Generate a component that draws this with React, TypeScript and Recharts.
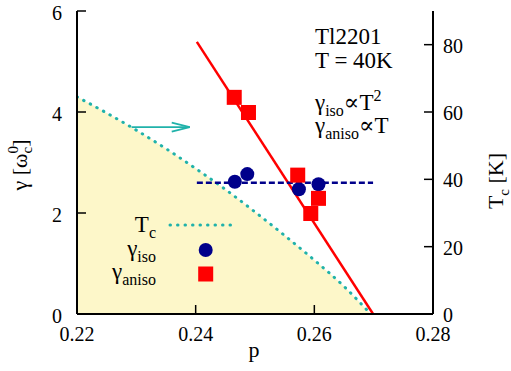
import React from 'react';
import {
  ComposedChart,
  XAxis,
  YAxis,
  Area,
  Line,
  Scatter,
  ReferenceLine,
} from 'recharts';

const FONT = "'Liberation Serif', 'DejaVu Serif', serif";
const TEAL = '#20b2aa';
const NAVY = '#00008b';
const RED = '#ff0000';
const FILL = '#fdf7c9';

// axes
const xTicks = [0.22, 0.24, 0.26, 0.28];
const gammaTicks = [0, 2, 4, 6];
const tcTicks = [0, 20, 40, 60, 80];

// Tc(p) dome (right axis, K)
const tcP = [0.22, 0.225, 0.23, 0.235, 0.24, 0.245, 0.25, 0.255, 0.26, 0.265, 0.2695];
const tcK = [64.5, 59.7, 54.6, 49.1, 43.2, 37.0, 30.3, 23.3, 16.0, 8.2, 0];

// gamma_iso points
const isoP = [0.2466, 0.2487, 0.2574, 0.2607];
const isoGamma = [2.62, 2.77, 2.47, 2.57];

// gamma_aniso points
const anisoP = [0.2465, 0.2489, 0.2572, 0.2607, 0.2594];
const anisoGamma = [4.29, 3.99, 2.75, 2.29, 1.99];

// fits
const anisoFitP = [0.2402, 0.2699];
const anisoFitGamma = [5.39, 0];
const isoFitP = [0.2402, 0.2699];
const isoFitGamma = [2.6, 2.6];

// arrow pointing to right axis
const arrowP = [0.2292, 0.239];
const arrowGamma = [3.7, 3.7];

const tcData = tcP.map((p, i) => ({ p, tc: tcK[i] }));
const isoData = isoP.map((p, i) => ({ p, g: isoGamma[i] }));
const anisoData = anisoP.map((p, i) => ({ p, g: anisoGamma[i] }));
const anisoFit = anisoFitP.map((p, i) => ({ p, g: anisoFitGamma[i] }));
const isoFit = isoFitP.map((p, i) => ({ p, g: isoFitGamma[i] }));

const TICK_FS = 20;
const TXT_FS = 23;
const SUB_FS = 16;
const fontStyle = { fontFamily: FONT };

const BottomTick = (props: any) => {
  const { x, y, payload } = props;
  return (
    <g>
      <line x1={x} x2={x} y1={y} y2={y - 9} stroke="#000" strokeWidth={1.5} />
      <text x={x} y={y} dy={27} textAnchor="middle" fontSize={TICK_FS} style={fontStyle} fill="#000">
        {payload.value}
      </text>
    </g>
  );
};

const TopTick = (props: any) => {
  const { x, y } = props;
  return <line x1={x} x2={x} y1={y} y2={y + 9} stroke="#000" strokeWidth={1.5} />;
};

const LeftTick = (props: any) => {
  const { x, y, payload } = props;
  const ax = x + 15;
  return (
    <g>
      <line x1={ax} x2={ax + 9} y1={y} y2={y} stroke="#000" strokeWidth={1.5} />
      <text x={x} y={y} dy={9} textAnchor="end" fontSize={TICK_FS} style={fontStyle} fill="#000">
        {payload.value}
      </text>
    </g>
  );
};

const RightTick = (props: any) => {
  const { x, y, payload } = props;
  const ax = x - 10;
  return (
    <g>
      <line x1={ax} x2={ax - 9} y1={y} y2={y} stroke="#000" strokeWidth={1.5} />
      <text x={x} y={y} dy={8} textAnchor="start" fontSize={TICK_FS} style={fontStyle} fill="#000">
        {payload.value}
      </text>
    </g>
  );
};

const ArrowShape = (props: any) => {
  const { x1, y1, x2, y2 } = props;
  return (
    <g>
      <line x1={x1} y1={y1} x2={x2} y2={y2} stroke={TEAL} strokeWidth={1.8} />
      <polyline
        points={`${x2 - 18},${y2 - 4.5} ${x2},${y2} ${x2 - 18},${y2 + 4.5}`}
        fill="none"
        stroke={TEAL}
        strokeWidth={1.8}
      />
    </g>
  );
};

const Overlay = () => (
  <svg
    width={511}
    height={371}
    style={{ position: 'absolute', left: 0, top: 0, pointerEvents: 'none', fontFamily: FONT }}
  >
    <g fill="#000" style={fontStyle}>
      {/* top-right notes */}
      <text x={315} y={44} fontSize={TXT_FS}>Tl2201</text>
      <text x={315} y={68} fontSize={TXT_FS}>T = 40K</text>
      <text x={315} y={110} fontSize={TXT_FS}>
        γ<tspan fontSize={SUB_FS} dy={6}>iso</tspan>
        <tspan dy={-6}>∝T</tspan>
        <tspan fontSize={SUB_FS} dy={-9}>2</tspan>
      </text>
      <text x={315} y={133} fontSize={TXT_FS}>
        γ<tspan fontSize={SUB_FS} dy={6}>aniso</tspan>
        <tspan dy={-6}>∝T</tspan>
      </text>

      {/* key */}
      <text x={156} y={232} fontSize={TXT_FS} textAnchor="end">
        T<tspan fontSize={SUB_FS} dy={6}>c</tspan>
      </text>
      <line x1={170} x2={237} y1={225} y2={225} stroke={TEAL} strokeWidth={3} strokeDasharray="0.5 7" strokeLinecap="round" />
      <text x={156} y={256} fontSize={TXT_FS} textAnchor="end">
        γ<tspan fontSize={SUB_FS} dy={6}>iso</tspan>
      </text>
      <circle cx={205.7} cy={250} r={7} fill={NAVY} />
      <text x={156} y={279} fontSize={TXT_FS} textAnchor="end">
        γ<tspan fontSize={SUB_FS} dy={6}>aniso</tspan>
      </text>
      <rect x={198.2} y={266.5} width={15} height={15} fill={RED} />

      {/* axis titles */}
      <text x={254} y={357} fontSize={22} textAnchor="middle">p</text>
      <g transform="translate(27,165) rotate(-90)">
        <text x={0} y={0} fontSize={22} textAnchor="middle">
          γ [ω<tspan fontSize={15} dy={-9}>0</tspan>
          <tspan fontSize={15} dx={-7.5} dy={14}>c</tspan>
          <tspan dy={-5}>]</tspan>
        </text>
      </g>
      <g transform="translate(503,181) rotate(-90)">
        <text x={0} y={0} fontSize={22} textAnchor="middle">
          T<tspan fontSize={15} dy={6}>c</tspan>
          <tspan dy={-6}> [K]</tspan>
        </text>
      </g>
    </g>
  </svg>
);

const axisLine = { stroke: '#000', strokeWidth: 2 };

export default function App() {
  return (
    <div style={{ position: 'absolute', left: 0, top: 0, width: 511, height: 371, background: '#fff' }}>
      <ComposedChart width={511} height={371} margin={{ top: 11, right: 0, bottom: 0, left: 0 }}>
        <XAxis
          xAxisId="b"
          dataKey="p"
          type="number"
          domain={[0.22, 0.28]}
          ticks={xTicks}
          allowDataOverflow
          height={57}
          tickSize={0}
          tickMargin={0}
          tickLine={false}
          axisLine={axisLine}
          tick={(p: any) => <BottomTick {...p} />}
          interval={0}
        />
        <XAxis
          xAxisId="t"
          orientation="top"
          dataKey="p"
          type="number"
          domain={[0.22, 0.28]}
          ticks={xTicks}
          allowDataOverflow
          height={0}
          tickSize={0}
          tickMargin={0}
          tickLine={false}
          axisLine={axisLine}
          tick={(p: any) => <TopTick {...p} />}
          interval={0}
        />
        <YAxis
          yAxisId="l"
          type="number"
          domain={[0, 6]}
          ticks={gammaTicks}
          allowDataOverflow
          width={77}
          tickSize={0}
          tickMargin={15}
          tickLine={false}
          axisLine={axisLine}
          tick={(p: any) => <LeftTick {...p} />}
          interval={0}
        />
        <YAxis
          yAxisId="r"
          orientation="right"
          type="number"
          domain={[0, 90]}
          ticks={tcTicks}
          allowDataOverflow
          width={78}
          tickSize={0}
          tickMargin={10}
          tickLine={false}
          axisLine={axisLine}
          tick={(p: any) => <RightTick {...p} />}
          interval={0}
        />
        <Area
          data={tcData}
          dataKey="tc"
          xAxisId="b"
          yAxisId="r"
          type="monotone"
          fill={FILL}
          fillOpacity={1}
          stroke="none"
          dot={false}
          activeDot={false}
          isAnimationActive={false}
        />
        <Line
          data={tcData}
          dataKey="tc"
          xAxisId="b"
          yAxisId="r"
          type="monotone"
          stroke={TEAL}
          strokeWidth={3}
          strokeDasharray="0.5 7"
          strokeLinecap="round"
          dot={false}
          activeDot={false}
          isAnimationActive={false}
        />
        <ReferenceLine
          xAxisId="b"
          yAxisId="l"
          segment={[
            { x: arrowP[0], y: arrowGamma[0] },
            { x: arrowP[1], y: arrowGamma[1] },
          ]}
          shape={ArrowShape}
        />
        <Line
          data={anisoFit}
          dataKey="g"
          xAxisId="b"
          yAxisId="l"
          type="linear"
          stroke={RED}
          strokeWidth={2.5}
          dot={false}
          activeDot={false}
          isAnimationActive={false}
        />
        <Line
          data={isoFit}
          dataKey="g"
          xAxisId="b"
          yAxisId="l"
          type="linear"
          stroke={NAVY}
          strokeWidth={2.5}
          strokeDasharray="6 3"
          dot={false}
          activeDot={false}
          isAnimationActive={false}
        />
        <Scatter
          data={isoData}
          dataKey="g"
          xAxisId="b"
          yAxisId="l"
          isAnimationActive={false}
          shape={(p: any) => <circle cx={p.cx} cy={p.cy} r={7} fill={NAVY} />}
        />
        <Scatter
          data={anisoData}
          dataKey="g"
          xAxisId="b"
          yAxisId="l"
          isAnimationActive={false}
          shape={(p: any) => <rect x={p.cx - 7.5} y={p.cy - 7.5} width={15} height={15} fill={RED} />}
        />
      </ComposedChart>
      <Overlay />
    </div>
  );
}
